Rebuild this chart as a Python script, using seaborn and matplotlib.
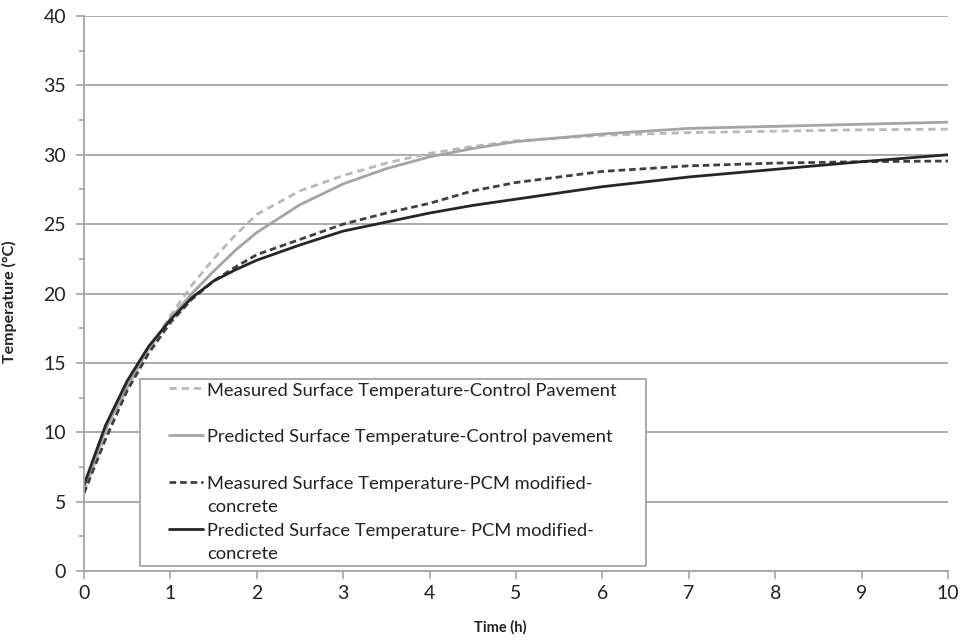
import matplotlib
matplotlib.use("Agg")
import matplotlib.pyplot as plt
from matplotlib.ticker import MultipleLocator
from matplotlib.lines import Line2D
from matplotlib.legend_handler import HandlerLine2D
import seaborn as sns
import pandas as pd

# Time (h)
time_h = [0, 0.25, 0.5, 0.75, 1, 1.25, 1.5, 1.75, 2, 2.5, 3, 3.5, 4, 4.5, 5, 6, 7, 8, 9, 10]

# Surface temperature (°C)
measured_control = [5.7, 9.8, 13.2, 15.9, 18.4, 20.6, 22.5, 24.2, 25.7, 27.4, 28.5, 29.4, 30.1, 30.6,
                    31.0, 31.4, 31.6, 31.7, 31.8, 31.85]
predicted_control = [6.0, 10.2, 13.4, 16.0, 18.2, 20.0, 21.6, 23.1, 24.4, 26.4, 27.9, 29.0, 29.85, 30.45,
                     30.95, 31.5, 31.9, 32.05, 32.2, 32.35]
measured_pcm = [5.6, 9.5, 13.0, 15.7, 17.9, 19.6, 20.9, 21.9, 22.8, 23.9, 25.0, 25.8, 26.5, 27.4,
                28.0, 28.8, 29.2, 29.4, 29.5, 29.55]
predicted_pcm = [6.2, 10.5, 13.7, 16.2, 18.1, 19.7, 20.9, 21.7, 22.4, 23.5, 24.5, 25.15, 25.8, 26.35,
                 26.8, 27.7, 28.4, 28.95, 29.5, 30.0]

# Every legend entry takes two text lines; the first two leave the second blank.
series_labels = [
    "Measured Surface Temperature-Control Pavement\n",
    "Predicted Surface Temperature-Control pavement\n",
    "Measured Surface Temperature-PCM modified-\nconcrete",
    "Predicted Surface Temperature- PCM modified-\nconcrete",
]
series_values = [measured_control, predicted_control, measured_pcm, predicted_pcm]
series_colors = ["#b8b8b8", "#a4a4a4", "#404040", "#262626"]
series_dashes = [(2.6, 1.8), "", (2.4, 1.4), ""]

df = pd.concat(
    [pd.DataFrame({"time": time_h, "temp": v, "series": lab})
     for lab, v in zip(series_labels, series_values)],
    ignore_index=True,
)

sns.set_style("white")
plt.rcParams["font.family"] = ["Lato", "DejaVu Sans"]

LEGEND_FS = 13.2


class FirstLineHandler(HandlerLine2D):
    """Line handle drawn level with the first text line, over the right part of the box."""

    def __init__(self, dy, start_frac, **kw):
        super().__init__(**kw)
        self.dy = dy
        self.start_frac = start_frac

    def create_artists(self, legend, orig_handle, xdescent, ydescent, width, height,
                       fontsize, trans):
        artists = super().create_artists(legend, orig_handle, xdescent, ydescent,
                                         width, height, fontsize, trans)
        for a in artists:
            if isinstance(a, Line2D):
                x0 = -xdescent + self.start_frac * width
                x1 = -xdescent + width
                y = (height - ydescent) / 2 + self.dy
                a.set_data([x0, x1], [y, y])
        return artists


fig = plt.figure(figsize=(9.64, 6.41), dpi=100)
ax = fig.add_axes([0.0871, 0.1092, 0.8963, 0.8658])

sns.lineplot(
    data=df, x="time", y="temp", hue="series", style="series",
    palette=dict(zip(series_labels, series_colors)),
    dashes=dict(zip(series_labels, series_dashes)),
    hue_order=series_labels, style_order=series_labels,
    linewidth=2.0, ax=ax, legend=True,
)

ax.set_xlim(0, 10)
ax.set_ylim(0, 40)
ax.xaxis.set_major_locator(MultipleLocator(1))
ax.yaxis.set_major_locator(MultipleLocator(5))
ax.yaxis.set_minor_locator(MultipleLocator(2.5))

ax.grid(axis="y", which="major", color="#a4a4a4", linewidth=1.3)
ax.grid(axis="x", visible=False)
ax.set_axisbelow(True)

for side in ("top", "right"):
    ax.spines[side].set_visible(False)
for side in ("left", "bottom"):
    ax.spines[side].set_color("#a4a4a4")
    ax.spines[side].set_linewidth(1.3)

ax.tick_params(axis="both", which="major", direction="out", length=6, width=1.2,
               color="#a4a4a4", labelsize=14, labelcolor="#222222")
ax.tick_params(axis="y", which="major", pad=7, left=True)
ax.tick_params(axis="x", which="major", pad=4, bottom=True)
ax.tick_params(axis="y", which="minor", direction="out", length=3.5, width=1.2,
               color="#a4a4a4", left=True)

ax.set_xlabel("Time (h)", fontsize=10.5, fontweight="bold", color="#222222")
ax.set_ylabel("Temperature (°C)", fontsize=11.5, fontweight="bold", color="#222222")
ax.xaxis.set_label_coords(0.482, -0.088)
ax.yaxis.set_label_coords(-0.078, 0.485)

handles, labels = ax.get_legend_handles_labels()
line_handler = FirstLineHandler(dy=0.78 * LEGEND_FS, start_frac=0.42)
leg = ax.legend(
    handles, labels, loc="lower left", mode="expand",
    bbox_to_anchor=(0.0648, 0.009, 0.5856, 0.339),
    frameon=True, fancybox=False, edgecolor="#a4a4a4", framealpha=1.0,
    fontsize=LEGEND_FS, handlelength=3.26, handletextpad=0.2, labelspacing=0.42,
    borderpad=0.2, borderaxespad=0,
    handler_map={Line2D: line_handler},
)
leg.get_frame().set_linewidth(1.3)
for t in leg.get_texts():
    t.set_color("#222222")
    t.set_linespacing(1.55)

fig.savefig("out.png", dpi=100)
